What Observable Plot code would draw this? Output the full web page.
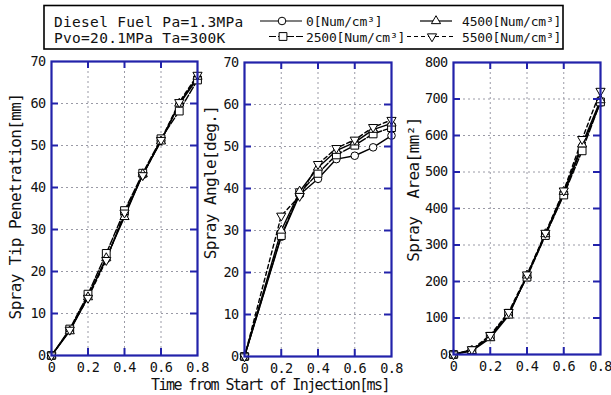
<!DOCTYPE html>
<html>
<head>
<meta charset="utf-8">
<script src="https://cdn.jsdelivr.net/npm/d3@7"></script>
<script src="https://cdn.jsdelivr.net/npm/@observablehq/plot@0.6"></script>
<style>
  html, body { margin: 0; padding: 0; background: #fff; }
  #chart { position: relative; width: 611px; height: 395px; overflow: hidden; background: #fff;
           font-family: "DejaVu Sans Mono", monospace; color: #111; }
</style>
</head>
<body>
<div id="chart"></div>
<script>
// ---------------- data ----------------
const seriesLabels = ["0[Num/cm³]", "2500[Num/cm³]", "4500[Num/cm³]", "5500[Num/cm³]"];

const timesPen = [0, 0.1, 0.2, 0.3, 0.4, 0.5, 0.6, 0.7, 0.8];
const pen0    = [0, 6.0, 14.2, 23.0, 33.5, 43.0, 51.2, 59.8, 66.0];
const pen2500 = [0, 6.3, 14.6, 24.3, 34.5, 43.4, 51.6, 58.2, 65.6];
const pen4500 = [0, 5.8, 13.9, 23.2, 33.0, 43.2, 51.0, 60.0, 66.4];
const pen5500 = [0, 6.1, 13.7, 22.7, 34.0, 42.9, 51.3, 60.3, 66.8];

const timesAng = [0, 0.2, 0.3, 0.4, 0.5, 0.6, 0.7, 0.8];
const ang0    = [0, 28.5, 38.5, 42.3, 47.0, 47.8, 49.8, 52.6];
const ang2500 = [0, 28.8, 39.0, 43.6, 48.0, 50.3, 53.0, 54.5];
const ang4500 = [0, 30.0, 39.3, 45.0, 49.0, 51.0, 54.0, 55.5];
const ang5500 = [0, 33.5, 38.2, 45.8, 49.6, 51.6, 54.6, 56.3];

const timesArea = [0, 0.1, 0.2, 0.3, 0.4, 0.5, 0.6, 0.7, 0.8];
const area0    = [0, 13, 48, 110, 215, 328, 440, 570, 690];
const area2500 = [0, 11, 50, 113, 212, 326, 437, 558, 692];
const area4500 = [0, 10, 45, 107, 217, 330, 446, 576, 697];
const area5500 = [0, 14, 53, 116, 219, 333, 449, 590, 722];

const xTicks = [0, 0.2, 0.4, 0.6, 0.8];
const yTicksDeg = [0, 10, 20, 30, 40, 50, 60, 70];
const yTicksArea = [0, 100, 200, 300, 400, 500, 600, 700, 800];

const titlePen = "Spray Tip Penetration[mm]";
const titleAng = "Spray Angle[deg.]";
const titleArea = "Spray  Area[mm²]";
const titleX = "Time from Start of Injection[ms]";
const legendLine1 = "Diesel Fuel Pa=1.3MPa";
const legendLine2 = "Pvo=20.1MPa Ta=300K";

// ---------------- styles ----------------
const BLUE = "#2222aa";
const GRID = "#9a9aa6";
const seriesStyle = [
  {symbol: "circle",   rotate: 0,   r: 3.8, dash: null},
  {symbol: "square",   rotate: 0,   r: 4.4, dash: "7,2"},
  {symbol: "triangle", rotate: 0,   r: 3.4, dash: null},
  {symbol: "triangle", rotate: 180, r: 3.4, dash: "4,3"}
];

const chart = document.getElementById("chart");
const xFmt = d => d === 0 ? "0" : d.toFixed(1);

function panel(cfg) {
  const {left, width, mL, mR, mT, mB, yDomain, yTicks, times, series, title, tdx, tdy} = cfg;
  const xMax = 0.8, yMax = yDomain[1];
  const marks = [
    Plot.ruleX(xTicks.slice(1, -1), {stroke: GRID, strokeWidth: 1, strokeDasharray: "2,3"}),
    Plot.ruleY(yTicks.slice(1, -1), {stroke: GRID, strokeWidth: 1, strokeDasharray: "2,3"})
  ];
  series.forEach((vals, si) => {
    const rows = vals.map((v, i) => ({t: times[i], v}));
    marks.push(Plot.line(rows, {x: "t", y: "v", stroke: "#000", strokeWidth: 1.4,
      strokeDasharray: seriesStyle[si].dash}));
  });
  series.forEach((vals, si) => {
    const rows = vals.map((v, i) => ({t: times[i], v}));
    const s = seriesStyle[si];
    marks.push(Plot.dot(rows, {x: "t", y: "v", symbol: s.symbol, rotate: s.rotate, r: s.r,
      fill: "white", stroke: "#000", strokeWidth: 1}));
  });
  marks.push(
    Plot.frame({stroke: BLUE, strokeWidth: 2.2}),
    // inward ticks
    Plot.ruleY(yTicks.slice(1, -1), {y: d => d, x1: 0, x2: 0, insetRight: -7, stroke: BLUE, strokeWidth: 2}),
    Plot.ruleY(yTicks.slice(1, -1), {y: d => d, x1: xMax, x2: xMax, insetLeft: -7, stroke: BLUE, strokeWidth: 2}),
    Plot.ruleX(xTicks.slice(1, -1), {x: d => d, y1: 0, y2: 0, insetTop: -7, stroke: BLUE, strokeWidth: 2}),
    Plot.ruleX(xTicks.slice(1, -1), {x: d => d, y1: yMax, y2: yMax, insetBottom: -7, stroke: BLUE, strokeWidth: 2}),
    Plot.axisX(xTicks, {tickSize: 0, tickPadding: 7, tickFormat: xFmt, label: null}),
    Plot.axisY(yTicks, {tickSize: 0, tickPadding: 6, tickFormat: d3.format("d"), label: null}),
    Plot.text([title], {frameAnchor: "left", textAnchor: "middle", rotate: -90, dx: tdx, dy: tdy,
      fontSize: 16, fill: "#111"})
  );
  const svg = Plot.plot({
    width, height: 395,
    marginLeft: mL, marginRight: mR, marginTop: mT, marginBottom: mB,
    x: {domain: [0, xMax], axis: null, label: null},
    y: {domain: yDomain, axis: null, label: null},
    style: "font-family:'DejaVu Sans Mono',monospace;font-size:13.5px;letter-spacing:-0.6px;background:transparent;overflow:visible;color:#111;",
    marks
  });
  svg.style.position = "absolute";
  svg.style.left = left + "px";
  svg.style.top = "0px";
  chart.appendChild(svg);
}

panel({left: 0, width: 205, mL: 51, mR: 8, mT: 61, mB: 40, yDomain: [0, 70], yTicks: yTicksDeg,
  times: timesPen, series: [pen0, pen2500, pen4500, pen5500], title: titlePen, tdx: -35.5, tdy: -2});
panel({left: 200, width: 200, mL: 44, mR: 9, mT: 62, mB: 39, yDomain: [0, 70], yTicks: yTicksDeg,
  times: timesAng, series: [ang0, ang2500, ang4500, ang5500], title: titleAng, tdx: -34, tdy: -27});
panel({left: 400, width: 211, mL: 53, mR: 11, mT: 62, mB: 41, yDomain: [0, 800], yTicks: yTicksArea,
  times: timesArea, series: [area0, area2500, area4500, area5500], title: titleArea, tdx: -40, tdy: -19});

// ---------------- legend & x title overlay ----------------
const ov = d3.select(chart).append("svg")
  .attr("width", 611).attr("height", 395)
  .style("position", "absolute").style("left", "0px").style("top", "0px")
  .style("overflow", "visible")
  .style("font-family", "'DejaVu Sans Mono',monospace").style("fill", "#111");

ov.append("rect").attr("x", 44).attr("y", 5.5).attr("width", 519).attr("height", 43.5)
  .attr("fill", "white").attr("stroke", "#000").attr("stroke-width", 1.6);

ov.append("text").attr("x", 54).attr("y", 26.5).style("font-size", "14.5px").style("letter-spacing", "0.3px").text(legendLine1);
ov.append("text").attr("x", 54).attr("y", 42.5).style("font-size", "14.5px").style("letter-spacing", "0.3px").text(legendLine2);

const legendPos = [
  {x1: 260, x2: 302, mx: 282, y: 21,   tx: 306, ty: 25.5},
  {x1: 269, x2: 305, mx: 283, y: 36.5, tx: 306, ty: 41.5},
  {x1: 420, x2: 452, mx: 436, y: 21,   tx: 462, ty: 25.5},
  {x1: 407, x2: 456, mx: 432, y: 36.5, tx: 462, ty: 41.5}
];
const symMap = {circle: d3.symbolCircle, square: d3.symbolSquare, triangle: d3.symbolTriangle};
seriesLabels.forEach((lab, i) => {
  const p = legendPos[i], s = seriesStyle[i];
  ov.append("line").attr("x1", p.x1).attr("x2", p.x2).attr("y1", p.y).attr("y2", p.y)
    .attr("stroke", "#000").attr("stroke-width", 1.2).attr("stroke-dasharray", s.dash);
  ov.append("path").attr("d", d3.symbol(symMap[s.symbol], s.r * s.r * Math.PI)())
    .attr("transform", `translate(${p.mx},${p.y}) rotate(${s.rotate})`)
    .attr("fill", "white").attr("stroke", "#000").attr("stroke-width", 1);
  ov.append("text").attr("x", p.tx).attr("y", p.ty).style("font-size", "13px").style("letter-spacing", "-0.2px").text(lab);
});

ov.append("text").attr("x", 270).attr("y", 390).attr("text-anchor", "middle")
  .style("font-size", "15px").style("letter-spacing", "-1.6px").text(titleX);
</script>
</body>
</html>
